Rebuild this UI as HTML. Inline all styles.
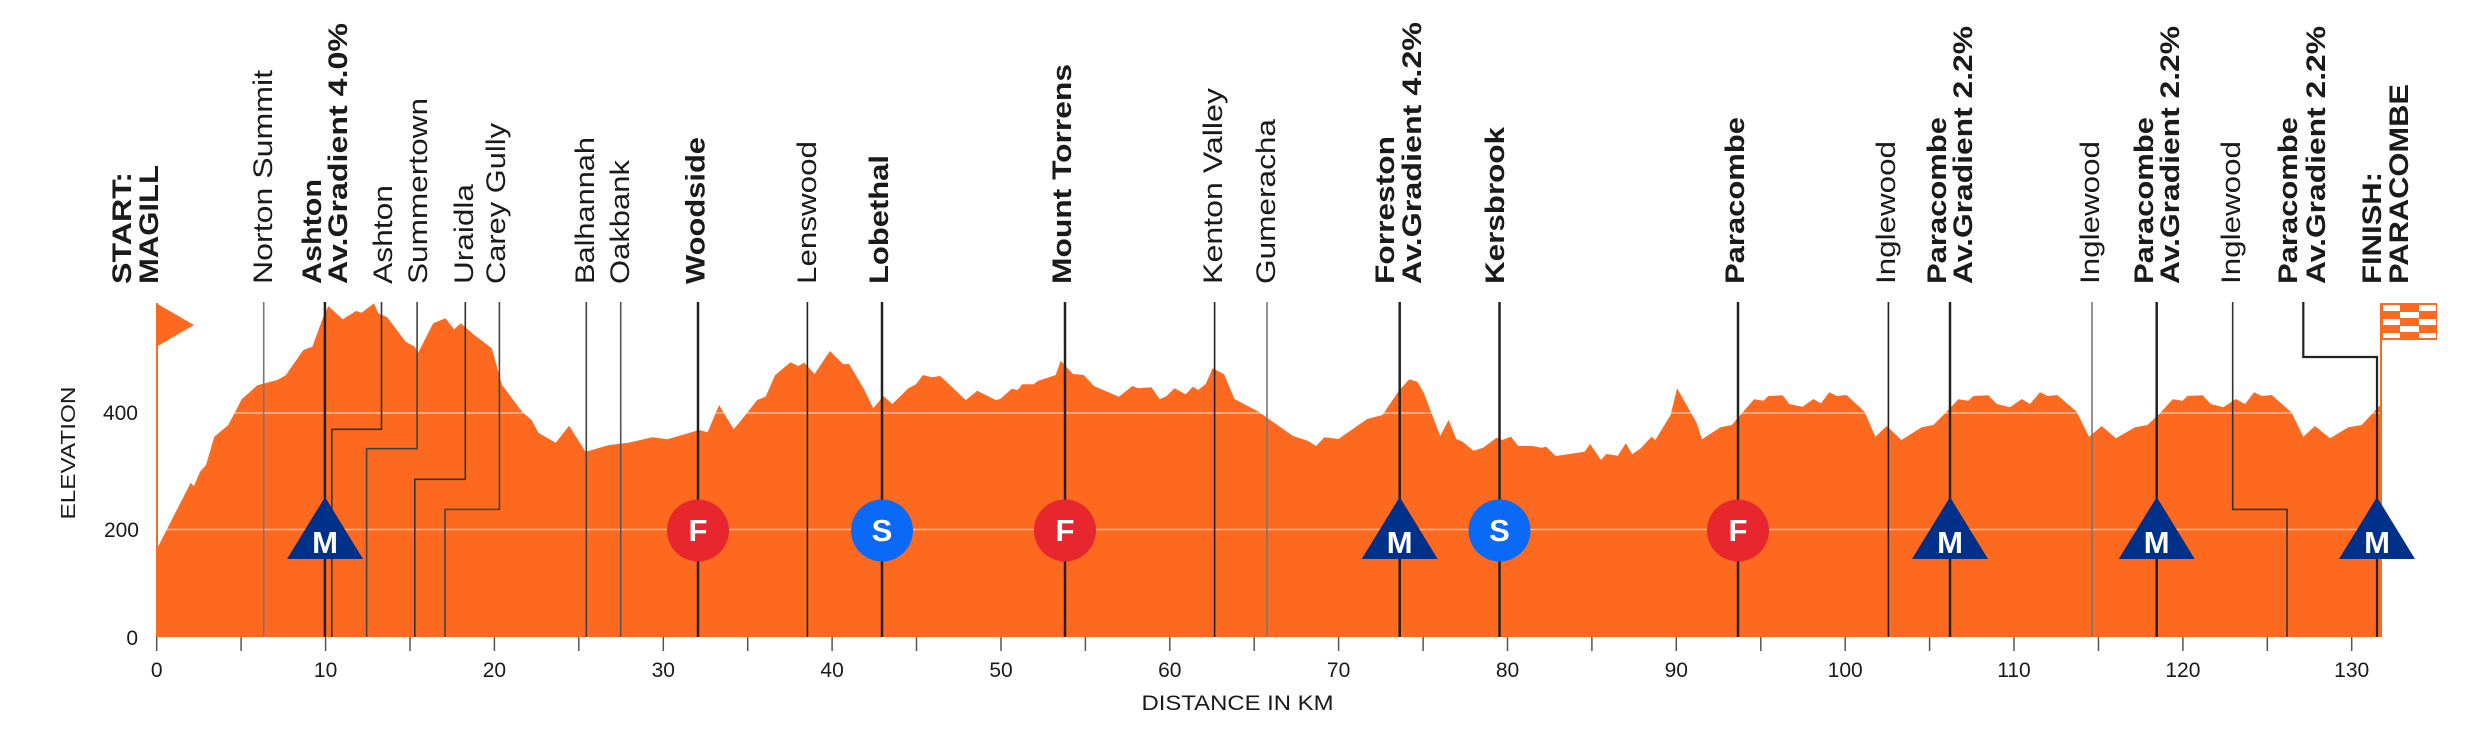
<!DOCTYPE html>
<html><head><meta charset="utf-8"><style>html,body{margin:0;padding:0;background:#fff}svg{display:block}</style></head>
<body>
<svg width="2481" height="751" viewBox="0 0 2481 751" xmlns="http://www.w3.org/2000/svg" font-family="Liberation Sans, Arial, sans-serif">
<rect width="2481" height="751" fill="#fff"/>
<polygon fill="#fd691f" points="156.7,637 156.7,549.3 190.7,482.7 194,486 200,471.7 206,465 214.3,436.7 228.3,425 241.7,399.3 257.3,385.3 277.3,380 285.7,375.3 303.3,350 312.3,346.7 323.3,316.7 328.3,306 342.7,319.3 356,311 361.7,312.7 374,303.3 378.3,313.3 387.3,317.3 405.6,341.7 414.8,346.7 417.9,353.3 433.2,323.3 445.4,318.3 454.2,329.3 460.8,323.3 473.4,334.3 491.8,348.3 502.1,385 522,411.7 531.6,420 538.4,432.7 555.7,442.7 569.1,425.7 585.5,451.7 609.2,445 628.4,442.7 652.1,437.3 667.4,439.3 699.2,430 707.6,432.3 719.1,405 733.6,429.3 740,421.7 757.2,400 765.6,396.7 775.2,375 790.5,362.3 798.2,366 804.3,362.7 814.6,374 829.9,351 843.3,364.3 849.1,364 863.6,388.3 873.2,408.3 883.5,396 892.3,404 908.4,388.3 916,384.3 922.9,375 931.4,377.3 940.2,376 965.8,400 977.3,390.7 995.6,400 1000.2,399 1011.7,388.7 1017.5,390 1022.4,384.3 1033.9,384.3 1037.7,381 1055.7,375 1060.7,360.7 1073,374 1083.7,375 1094,386 1118.9,396.7 1132.3,386 1138,388.3 1151.4,387.3 1159.8,399.3 1166.7,396 1174.4,388.3 1185.8,394.3 1192.7,386.7 1198.1,390 1205.7,384 1212.6,368.3 1224.1,374.3 1234.5,399 1258.6,411.7 1293,436 1308.3,441 1316,446 1324.4,437.3 1338.4,439 1367.1,419 1382.4,415 1398.9,390.7 1409.2,379.3 1417.3,381.7 1423.8,392.7 1440.2,436 1448.6,420 1456.3,439 1462.8,441.7 1473.5,450.7 1483.1,447.7 1496.5,437.7 1502.2,440 1511,436.7 1518.3,446 1532.8,446 1541.6,447.7 1546.2,446.7 1555.8,456 1584.5,451.7 1590.2,444 1601,460 1606.3,454 1617.8,455.7 1625.8,443.3 1632.3,454.3 1640.8,448.3 1651.5,436.7 1655.3,440 1670.6,415 1677.1,388.3 1696.6,422.7 1702,439.3 1720.4,427.3 1731.8,425 1754,399.3 1763.6,400.7 1768.2,396 1782.7,395.3 1789.2,404 1802.6,406.7 1813.4,399 1821,403.3 1829.4,392.3 1837.1,396 1846.6,395 1864.6,411.7 1875.4,436.7 1886.8,426 1901.4,440 1921.7,427.3 1933.3,425 1948.3,410 1958.3,399.3 1968.3,400.7 1973.3,396 1988.3,395.3 1996.7,404 2010,407.3 2021.7,399 2030,404 2040,392.3 2047.7,396 2057.3,395 2076.7,411.7 2089,436.7 2101.7,426 2116,438.3 2135,427.3 2147.3,425 2158.3,415 2172.7,399.3 2182.7,400.7 2187.3,396 2202.7,395.3 2210.7,404 2223.3,407.3 2236,399 2245,404 2254,392.3 2261.7,396 2271.7,395 2291.7,412.7 2303.3,436.7 2315,426 2330,438.3 2348.3,427.3 2361.7,425 2382,403 2382,637"/>
<g stroke="#fff" stroke-opacity="0.55" stroke-width="1.5">
<line x1="157" y1="413" x2="2382" y2="413"/><line x1="157" y1="529.5" x2="2382" y2="529.5"/>
</g>
<g fill="none" stroke-width="1.6">
<line x1="263.7" y1="302" x2="263.7" y2="637" stroke="#777"/>
<line x1="324.9" y1="302" x2="324.9" y2="637" stroke="#222" stroke-width="2.5"/>
<polyline points="381.5,302 381.5,429.3 331.8,429.3 331.8,637" stroke="#333"/>
<polyline points="417.1,302 417.1,448.7 366.6,448.7 366.6,637" stroke="#444"/>
<polyline points="465.3,302 465.3,479.3 414.8,479.3 414.8,637" stroke="#333"/>
<polyline points="499.4,302 499.4,509.4 445,509.4 445,637" stroke="#444"/>
<line x1="586.3" y1="302" x2="586.3" y2="637" stroke="#444"/>
<line x1="620.7" y1="302" x2="620.7" y2="637" stroke="#555"/>
<line x1="698" y1="302" x2="698" y2="637" stroke="#222" stroke-width="2.5"/>
<line x1="807.4" y1="302" x2="807.4" y2="637" stroke="#222"/>
<line x1="882" y1="302" x2="882" y2="637" stroke="#222" stroke-width="2.5"/>
<line x1="1065" y1="302" x2="1065" y2="637" stroke="#222" stroke-width="2.5"/>
<line x1="1214.6" y1="302" x2="1214.6" y2="637" stroke="#222"/>
<line x1="1267" y1="302" x2="1267" y2="637" stroke="#777"/>
<line x1="1399.7" y1="302" x2="1399.7" y2="637" stroke="#222" stroke-width="2.5"/>
<line x1="1499.5" y1="302" x2="1499.5" y2="637" stroke="#222" stroke-width="2.5"/>
<line x1="1738" y1="302" x2="1738" y2="637" stroke="#222" stroke-width="2.5"/>
<line x1="1888.4" y1="302" x2="1888.4" y2="637" stroke="#222"/>
<line x1="1950" y1="302" x2="1950" y2="637" stroke="#222" stroke-width="2.5"/>
<line x1="2092" y1="302" x2="2092" y2="637" stroke="#777"/>
<line x1="2156.7" y1="302" x2="2156.7" y2="637" stroke="#222" stroke-width="2.5"/>
<polyline points="2232.7,302 2232.7,509.4 2287,509.4 2287,637" stroke="#333"/>
<polyline points="2303.3,302 2303.3,357 2377,357 2377,637" stroke="#222" stroke-width="2.2"/>
</g>
<line x1="157" y1="303" x2="157" y2="637" stroke="#fd691f" stroke-width="2"/>
<polygon points="156,303 194,325 156,347" fill="#fd691f"/>
<line x1="2381" y1="303" x2="2381" y2="637" stroke="#fd691f" stroke-width="2"/>
<rect x="2381" y="303" width="56" height="37" fill="#fd691f"/>
<g fill="#fff">
<rect x="2383" y="305" width="17" height="6"/><rect x="2419" y="305" width="17" height="6"/>
<rect x="2400" y="312" width="19" height="6"/>
<rect x="2383" y="319" width="17" height="6"/><rect x="2419" y="319" width="17" height="6"/>
<rect x="2400" y="326" width="19" height="6"/>
<rect x="2383" y="333" width="17" height="5"/><rect x="2419" y="333" width="17" height="5"/>
</g>
<g fill="#00318a">
<polygon points="325,497 287,559 363,559"/>
<polygon points="1399.7,497 1361.7,559 1437.7,559"/>
<polygon points="1950,497 1912,559 1988,559"/>
<polygon points="2156.7,497 2118.7,559 2194.7,559"/>
<polygon points="2377,497 2339,559 2415,559"/>
</g>
<g fill="#fff" font-weight="bold" font-size="31" text-anchor="middle">
<text x="325" y="553">M</text><text x="1399.7" y="553">M</text><text x="1950" y="553">M</text><text x="2156.7" y="553">M</text><text x="2377" y="553">M</text>
</g>
<circle cx="698" cy="530.5" r="31" fill="#e8262d"/>
<circle cx="1065" cy="530.5" r="31" fill="#e8262d"/>
<circle cx="1738" cy="530.5" r="31" fill="#e8262d"/>
<circle cx="882" cy="530.5" r="31" fill="#0a6af5"/>
<circle cx="1499.5" cy="530.5" r="31" fill="#0a6af5"/>
<g fill="#fff" font-weight="bold" font-size="31" text-anchor="middle">
<text x="698" y="541">F</text><text x="1065" y="541">F</text><text x="1738" y="541">F</text>
<text x="882" y="541">S</text><text x="1499.5" y="541">S</text>
</g>
<g fill="#1a1a1a" font-size="27">
<text transform="translate(131,284) rotate(-90)" font-weight="bold" textLength="112" lengthAdjust="spacingAndGlyphs">START:</text>
<text transform="translate(158,284) rotate(-90)" font-weight="bold" textLength="119" lengthAdjust="spacingAndGlyphs">MAGILL</text>
<text transform="translate(272,284) rotate(-90)" textLength="214" lengthAdjust="spacingAndGlyphs">Norton Summit</text>
<text transform="translate(321,284) rotate(-90)" font-weight="bold" textLength="105" lengthAdjust="spacingAndGlyphs">Ashton</text>
<text transform="translate(347,284) rotate(-90)" font-weight="bold" textLength="261" lengthAdjust="spacingAndGlyphs">Av.Gradient 4.0%</text>
<text transform="translate(392,284) rotate(-90)" textLength="99" lengthAdjust="spacingAndGlyphs">Ashton</text>
<text transform="translate(427,284) rotate(-90)" textLength="186" lengthAdjust="spacingAndGlyphs">Summertown</text>
<text transform="translate(473,284) rotate(-90)" textLength="100" lengthAdjust="spacingAndGlyphs">Uraidla</text>
<text transform="translate(505,284) rotate(-90)" textLength="161" lengthAdjust="spacingAndGlyphs">Carey Gully</text>
<text transform="translate(594,284) rotate(-90)" textLength="147" lengthAdjust="spacingAndGlyphs">Balhannah</text>
<text transform="translate(629,284) rotate(-90)" textLength="124" lengthAdjust="spacingAndGlyphs">Oakbank</text>
<text transform="translate(704.5,284) rotate(-90)" font-weight="bold" textLength="147" lengthAdjust="spacingAndGlyphs">Woodside</text>
<text transform="translate(816,284) rotate(-90)" textLength="143" lengthAdjust="spacingAndGlyphs">Lenswood</text>
<text transform="translate(888,284) rotate(-90)" font-weight="bold" textLength="129" lengthAdjust="spacingAndGlyphs">Lobethal</text>
<text transform="translate(1071,284) rotate(-90)" font-weight="bold" textLength="220" lengthAdjust="spacingAndGlyphs">Mount Torrens</text>
<text transform="translate(1222,284) rotate(-90)" textLength="196" lengthAdjust="spacingAndGlyphs">Kenton Valley</text>
<text transform="translate(1275,284) rotate(-90)" textLength="165" lengthAdjust="spacingAndGlyphs">Gumeracha</text>
<text transform="translate(1394,284) rotate(-90)" font-weight="bold" textLength="148" lengthAdjust="spacingAndGlyphs">Forreston</text>
<text transform="translate(1421,284) rotate(-90)" font-weight="bold" textLength="262" lengthAdjust="spacingAndGlyphs">Av.Gradient 4.2%</text>
<text transform="translate(1504,284) rotate(-90)" font-weight="bold" textLength="157" lengthAdjust="spacingAndGlyphs">Kersbrook</text>
<text transform="translate(1744,284) rotate(-90)" font-weight="bold" textLength="167" lengthAdjust="spacingAndGlyphs">Paracombe</text>
<text transform="translate(1895,284) rotate(-90)" textLength="143" lengthAdjust="spacingAndGlyphs">Inglewood</text>
<text transform="translate(1946,284) rotate(-90)" font-weight="bold" textLength="167" lengthAdjust="spacingAndGlyphs">Paracombe</text>
<text transform="translate(1972,284) rotate(-90)" font-weight="bold" textLength="258" lengthAdjust="spacingAndGlyphs">Av.Gradient 2.2%</text>
<text transform="translate(2099,284) rotate(-90)" textLength="143" lengthAdjust="spacingAndGlyphs">Inglewood</text>
<text transform="translate(2153,284) rotate(-90)" font-weight="bold" textLength="167" lengthAdjust="spacingAndGlyphs">Paracombe</text>
<text transform="translate(2179,284) rotate(-90)" font-weight="bold" textLength="258" lengthAdjust="spacingAndGlyphs">Av.Gradient 2.2%</text>
<text transform="translate(2240,284) rotate(-90)" textLength="143" lengthAdjust="spacingAndGlyphs">Inglewood</text>
<text transform="translate(2297,284) rotate(-90)" font-weight="bold" textLength="167" lengthAdjust="spacingAndGlyphs">Paracombe</text>
<text transform="translate(2325,284) rotate(-90)" font-weight="bold" textLength="258" lengthAdjust="spacingAndGlyphs">Av.Gradient 2.2%</text>
<text transform="translate(2381,284) rotate(-90)" font-weight="bold" textLength="112" lengthAdjust="spacingAndGlyphs">FINISH:</text>
<text transform="translate(2408,284) rotate(-90)" font-weight="bold" textLength="200" lengthAdjust="spacingAndGlyphs">PARACOMBE</text>
</g>
<g stroke="#555" stroke-width="1.5">
<line x1="156.7" y1="637" x2="156.7" y2="651"/><line x1="241.1" y1="637" x2="241.1" y2="651"/><line x1="325.6" y1="637" x2="325.6" y2="651"/><line x1="410" y1="637" x2="410" y2="651"/><line x1="494.4" y1="637" x2="494.4" y2="651"/><line x1="578.8" y1="637" x2="578.8" y2="651"/><line x1="663.3" y1="637" x2="663.3" y2="651"/><line x1="747.7" y1="637" x2="747.7" y2="651"/><line x1="832.1" y1="637" x2="832.1" y2="651"/><line x1="916.5" y1="637" x2="916.5" y2="651"/><line x1="1001" y1="637" x2="1001" y2="651"/><line x1="1085.4" y1="637" x2="1085.4" y2="651"/><line x1="1169.8" y1="637" x2="1169.8" y2="651"/><line x1="1254.2" y1="637" x2="1254.2" y2="651"/><line x1="1338.6" y1="637" x2="1338.6" y2="651"/><line x1="1423.1" y1="637" x2="1423.1" y2="651"/><line x1="1507.5" y1="637" x2="1507.5" y2="651"/><line x1="1591.9" y1="637" x2="1591.9" y2="651"/><line x1="1676.3" y1="637" x2="1676.3" y2="651"/><line x1="1760.8" y1="637" x2="1760.8" y2="651"/><line x1="1845.2" y1="637" x2="1845.2" y2="651"/><line x1="1929.6" y1="637" x2="1929.6" y2="651"/><line x1="2014" y1="637" x2="2014" y2="651"/><line x1="2098.5" y1="637" x2="2098.5" y2="651"/><line x1="2182.9" y1="637" x2="2182.9" y2="651"/><line x1="2267.3" y1="637" x2="2267.3" y2="651"/><line x1="2351.7" y1="637" x2="2351.7" y2="651"/>
</g>
<g fill="#1a1a1a" font-size="21" text-anchor="middle">
<text x="156.7" y="677">0</text><text x="325.6" y="677">10</text><text x="494.4" y="677">20</text><text x="663.3" y="677">30</text><text x="832.1" y="677">40</text><text x="1001" y="677">50</text><text x="1169.8" y="677">60</text><text x="1338.6" y="677">70</text><text x="1507.5" y="677">80</text><text x="1676.3" y="677">90</text><text x="1845.2" y="677">100</text><text x="2014" y="677">110</text><text x="2182.9" y="677">120</text><text x="2351.7" y="677">130</text>
<text x="1237.5" y="710" textLength="192" lengthAdjust="spacingAndGlyphs">DISTANCE IN KM</text>
</g>
<g fill="#1a1a1a" font-size="21" text-anchor="end">
<text x="138" y="645">0</text><text x="139" y="537">200</text><text x="138" y="420">400</text>
</g>
<text transform="translate(75,453) rotate(-90)" fill="#1a1a1a" font-size="20" text-anchor="middle" textLength="133" lengthAdjust="spacingAndGlyphs">ELEVATION</text>
</svg>
</body></html>
